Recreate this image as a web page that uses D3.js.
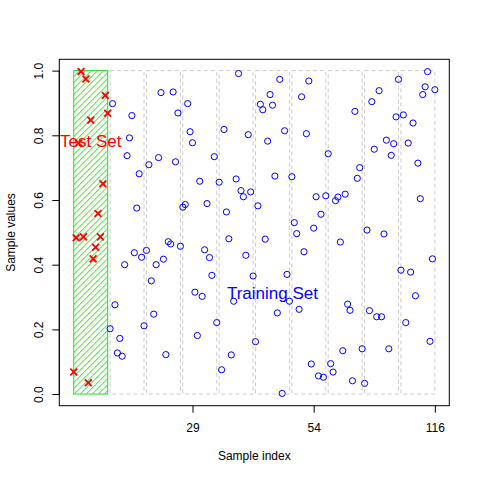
<!DOCTYPE html>
<html>
<head>
<meta charset="utf-8">
<script src="https://cdn.jsdelivr.net/npm/d3@7"></script>
<style>
  body { margin: 0; background: #fff; }
  svg { font-family: "Liberation Sans", Arial, sans-serif; }
</style>
</head>
<body>
<svg width="480" height="480"></svg>
<script>
// sample values of the test fold (indices 1..15)
const testValues = [0.068, 0.483, 0.776, 0.997, 0.486, 0.974, 0.035, 0.847, 0.418, 0.454,
    0.558, 0.486, 0.650, 0.923, 0.868];

// sample values of the training folds (indices 16..150)
const trainValues = [
    0.202, 0.898, 0.276, 0.127, 0.172, 0.117, 0.400, 0.737, 0.792, 0.861,
    0.437, 0.575, 0.681, 0.423, 0.211, 0.444, 0.709, 0.350, 0.247, 0.400,
    0.731, 0.932, 0.417, 0.122, 0.471, 0.464, 0.934, 0.718, 0.869, 0.457,
    0.578, 0.586, 0.898, 0.811, 0.777, 0.315, 0.181, 0.658, 0.302, 0.446,
    0.589, 0.422, 0.367, 0.734, 0.221, 0.655, 0.075, 0.818, 0.563, 0.480,
    0.121, 0.287, 0.665, 0.991, 0.629, 0.610, 0.429, 0.802, 0.625, 0.365,
    0.162, 0.582, 0.896, 0.879, 0.479, 0.782, 0.926, 0.893, 0.674, 0.251,
    0.973, 0.002, 0.814, 0.370, 0.287, 0.672, 0.530, 0.496, 0.262, 0.919,
    0.440, 0.805, 0.968, 0.093, 0.513, 0.610, 0.056, 0.556, 0.052, 0.613,
    0.743, 0.094, 0.068, 0.598, 0.609, 0.470, 0.134, 0.618, 0.278, 0.259,
    0.041, 0.874, 0.667, 0.700, 0.140, 0.033, 0.507, 0.258, 0.904, 0.757,
    0.239, 0.938, 0.239, 0.495, 0.785, 0.140, 0.738, 0.774, 0.857, 0.973,
    0.383, 0.863, 0.221, 0.776, 0.377, 0.838, 0.304, 0.714, 0.604, 0.926,
    0.950, 0.997, 0.163, 0.418, 0.941
];

// folds: first and last index of each block
const foldStarts = [1, 16, 31, 46, 61, 76, 91, 106, 121, 136];
const foldEnds = [15, 30, 45, 60, 75, 90, 105, 120, 135, 150];

// axis ticks
const xTickAt = [50, 100, 150];
const xTickLabels = ['29', '54', '116'];
const yTicks = [0, 0.2, 0.4, 0.6, 0.8, 1.0];

// text labels placed in data space
const setLabels = ['Test Set', 'Training Set'];
const setLabelX = [8, 83];
const setLabelY = [0.78, 0.31];
const setLabelColors = ['#ff0000', '#0000ff'];

const nTest = testValues.length;
const points = testValues.map((v, i) => ({ idx: i + 1, value: v, test: true }))
    .concat(trainValues.map((v, i) => ({ idx: nTest + i + 1, value: v, test: false })));

const svg = d3.select('svg');
const plot = { left: 59.3, right: 449.3, top: 59.3, bottom: 405.7 };
const green = '#1ee01e';

// R-style 4% padding on x
const n = points.length;
const pad = (n - 1) * 0.04;
const x = d3.scaleLinear()
    .domain([1 - pad, n + pad])
    .range([plot.left, plot.right]);

const y = d3.scaleLinear()
    .domain([-0.036, 1.035])
    .range([plot.bottom, plot.top]);

// fold rectangles
const folds = foldStarts.map((s, i) => ({ start: s, end: foldEnds[i], test: i === 0 }));
const testFold = folds[0];

// hatch lines inside the test block, clipped to it
const hx0 = x(testFold.start), hx1 = x(testFold.end);
const hy0 = y(1), hy1 = y(0);
svg.append('defs').append('clipPath')
    .attr('id', 'test-clip')
    .append('rect')
    .attr('x', hx0)
    .attr('y', hy0)
    .attr('width', hx1 - hx0)
    .attr('height', hy1 - hy0);

const step = 6;
const h = hy1 - hy0;
svg.append('g')
    .attr('clip-path', 'url(#test-clip)')
    .selectAll('line')
    .data(d3.range(hx0 - h, hx1 + step, step))
    .enter().append('line')
    .attr('x1', d => d)
    .attr('y1', hy1)
    .attr('x2', d => d + h)
    .attr('y2', hy0)
    .attr('stroke', green)
    .attr('stroke-width', 1);

svg.append('g')
    .selectAll('rect')
    .data(folds)
    .enter().append('rect')
    .attr('x', d => x(d.start))
    .attr('y', y(1))
    .attr('width', d => x(d.end) - x(d.start))
    .attr('height', y(0) - y(1))
    .attr('fill', 'none')
    .attr('stroke', d => d.test ? green : '#cccccc')
    .attr('stroke-width', 1)
    .attr('stroke-dasharray', d => d.test ? null : '4,3');

// training points as open circles
svg.append('g')
    .selectAll('circle')
    .data(points.filter(d => !d.test))
    .enter().append('circle')
    .attr('cx', d => x(d.idx))
    .attr('cy', d => y(d.value))
    .attr('r', 3.1)
    .attr('fill', 'none')
    .attr('stroke', '#0000ff')
    .attr('stroke-width', 1);

// test points as crosses
const s = 3.4;
svg.append('g')
    .selectAll('path')
    .data(points.filter(d => d.test))
    .enter().append('path')
    .attr('d', d => {
        const cx = x(d.idx), cy = y(d.value);
        return `M${cx - s},${cy - s}L${cx + s},${cy + s}M${cx - s},${cy + s}L${cx + s},${cy - s}`;
    })
    .attr('stroke', '#ff0000')
    .attr('stroke-width', 1.8)
    .attr('fill', 'none');

// set labels
svg.append('g')
    .selectAll('text')
    .data(setLabels)
    .enter().append('text')
    .attr('x', (d, i) => x(setLabelX[i]))
    .attr('y', (d, i) => y(setLabelY[i]))
    .attr('dy', '0.33em')
    .attr('text-anchor', 'middle')
    .style('font-size', '17px')
    .attr('fill', (d, i) => setLabelColors[i])
    .text(d => d);

// box around the plot
svg.append('rect')
    .attr('x', plot.left)
    .attr('y', plot.top)
    .attr('width', plot.right - plot.left)
    .attr('height', plot.bottom - plot.top)
    .attr('fill', 'none')
    .attr('stroke', '#000')
    .attr('stroke-width', 1);

// x axis
const xAxis = svg.append('g')
    .attr('transform', `translate(0,${plot.bottom})`)
    .call(d3.axisBottom(x)
        .tickValues(xTickAt)
        .tickFormat((d, i) => xTickLabels[i])
        .tickSize(7)
        .tickPadding(11));
xAxis.select('.domain').remove();
xAxis.selectAll('text')
    .style('font-size', '12px')
    .style('font-family', '"Liberation Sans", Arial, sans-serif')
    .attr('fill', '#000');

// y axis with R-style vertical labels
const yAxis = svg.append('g')
    .attr('transform', `translate(${plot.left},0)`)
    .call(d3.axisLeft(y)
        .tickValues(yTicks)
        .tickFormat(d3.format('.1f'))
        .tickSize(7));
yAxis.select('.domain')
    .attr('d', `M0,${y(0)}V${y(1)}`);
yAxis.selectAll('text')
    .attr('x', null)
    .attr('dy', null)
    .attr('transform', 'translate(-16.8,0) rotate(-90)')
    .attr('text-anchor', 'middle')
    .style('font-size', '12px')
    .style('font-family', '"Liberation Sans", Arial, sans-serif')
    .attr('fill', '#000');

// axis titles
svg.append('text')
    .attr('x', (plot.left + plot.right) / 2)
    .attr('y', 460)
    .attr('text-anchor', 'middle')
    .style('font-size', '12px')
    .text('Sample index');

svg.append('text')
    .attr('transform', `translate(15,${(plot.top + plot.bottom) / 2}) rotate(-90)`)
    .attr('text-anchor', 'middle')
    .style('font-size', '12px')
    .text('Sample values');
</script>
</body>
</html>
